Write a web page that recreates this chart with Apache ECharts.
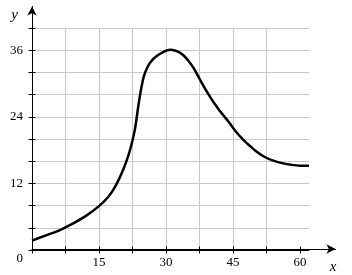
<!DOCTYPE html>
<html>
<head>
<meta charset="utf-8">
<script src="https://cdn.jsdelivr.net/npm/echarts@6/dist/echarts.min.js"></script>
<style>
html,body{margin:0;padding:0;background:#fff;}
#chart{width:352px;height:275px;}
</style>
</head>
<body>
<div id="chart"></div>
<script>
// Data
var xValues = [0, 3, 6, 9, 12, 15, 17, 18, 19, 20, 21, 22, 23, 24, 25, 26, 27, 28, 29, 30, 31, 32, 33, 34, 35, 36, 37, 38, 39, 40, 41, 42, 43, 44, 45, 46, 47, 48, 49, 50, 52, 54, 56, 58, 60, 62];
var yValues = [1.7, 2.6, 3.5, 4.7, 6.1, 7.9, 9.5, 10.6, 12.0, 13.7, 15.7, 18.2, 21.6, 27.0, 31.2, 33.2, 34.3, 35.0, 35.5, 35.9, 36.1, 35.95, 35.6, 35.0, 34.1, 33.0, 31.6, 30.1, 28.7, 27.4, 26.2, 25.1, 24.1, 23.1, 22.0, 21.0, 20.1, 19.3, 18.6, 17.9, 16.8, 16.1, 15.65, 15.35, 15.2, 15.2];
var xTickValues = [0, 7.5, 15, 22.5, 30, 37.5, 45, 52.5, 60];
var xLabelValues = [15, 30, 45, 60];
var yLabelValues = [0, 12, 24, 36];
var xName = 'x';
var yName = 'y';

var points = xValues.map(function (x, i) { return [x, yValues[i]]; });

var serif = 'Liberation Serif';
var gridColor = '#c8c8c8';

var chart = echarts.init(document.getElementById('chart'), null, {renderer: 'canvas'});
var option = {
  animation: false,
  backgroundColor: '#ffffff',
  grid: [
    {left: 32, right: 43, top: 28, bottom: 25},
    {left: 32, right: 16.5, top: 6.5, bottom: 25}
  ],
  xAxis: [
    {
      gridIndex: 0, type: 'value', min: 0, max: 62, interval: 7.5,
      axisLine: {show: true, lineStyle: {color: '#000', width: 1}},
      axisTick: {show: true, inside: false, length: 3.5, customValues: xTickValues, lineStyle: {color: '#000', width: 1}},
      axisLabel: {
        show: true, margin: 6, color: '#000', fontFamily: serif, fontSize: 13,
        customValues: xLabelValues
      },
      splitLine: {show: true, showMaxLine: false, lineStyle: {color: gridColor, width: 1}}
    },
    {
      gridIndex: 0, type: 'value', min: 0, max: 62, interval: 7.5, position: 'bottom',
      axisLine: {show: false},
      axisTick: {show: true, inside: true, length: 3.5, customValues: xTickValues, lineStyle: {color: '#000', width: 1}},
      axisLabel: {show: false},
      splitLine: {show: false}
    },
    {
      gridIndex: 1, type: 'value', min: 0, max: 1,
      axisLine: {show: true, symbol: ['none', 'arrow'], symbolSize: [7, 9], lineStyle: {color: '#000', width: 1}},
      axisTick: {show: false}, axisLabel: {show: false}, splitLine: {show: false},
      name: xName, nameLocation: 'end', nameGap: -2.5,
      nameTextStyle: {fontFamily: serif, fontStyle: 'italic', fontSize: 15, color: '#000',
        align: 'center', verticalAlign: 'top', padding: [11, 0, 0, 0]}
    }
  ],
  yAxis: [
    {
      gridIndex: 0, type: 'value', min: 0, max: 40, interval: 4,
      axisLine: {show: true, lineStyle: {color: '#000', width: 1}},
      axisTick: {show: true, inside: false, length: 3.5, lineStyle: {color: '#000', width: 1}},
      axisLabel: {
        show: true, margin: 9, color: '#000', fontFamily: serif, fontSize: 13,
        showMinLabel: true,
        formatter: function (v) {
          if (yLabelValues.indexOf(v) < 0) return '';
          return v === 0 ? '{z|' + v + '}' : String(v);
        },
        rich: {z: {fontFamily: serif, fontSize: 13, color: '#000', padding: [18, 0, 0, 0]}}
      },
      splitLine: {show: true, lineStyle: {color: gridColor, width: 1}}
    },
    {
      gridIndex: 0, type: 'value', min: 0, max: 40, interval: 4, position: 'left',
      axisLine: {show: false},
      axisTick: {show: true, inside: true, length: 3.5, lineStyle: {color: '#000', width: 1}},
      axisLabel: {show: false},
      splitLine: {show: false}
    },
    {
      gridIndex: 1, type: 'value', min: 0, max: 1,
      axisLine: {show: true, symbol: ['none', 'arrow'], symbolSize: [7, 9], lineStyle: {color: '#000', width: 1}},
      axisTick: {show: false}, axisLabel: {show: false}, splitLine: {show: false},
      name: yName, nameLocation: 'end', nameGap: -8.5,
      nameTextStyle: {fontFamily: serif, fontStyle: 'italic', fontSize: 15, color: '#000',
        align: 'right', verticalAlign: 'middle', padding: [0, 14, 0, 0]}
    }
  ],
  series: [
    {
      type: 'line', xAxisIndex: 0, yAxisIndex: 0,
      data: points, smooth: 0.35, showSymbol: false, symbol: 'none',
      lineStyle: {color: '#000', width: 2.5},
      clip: false
    }
  ]
};
chart.setOption(option);
</script>
</body>
</html>
